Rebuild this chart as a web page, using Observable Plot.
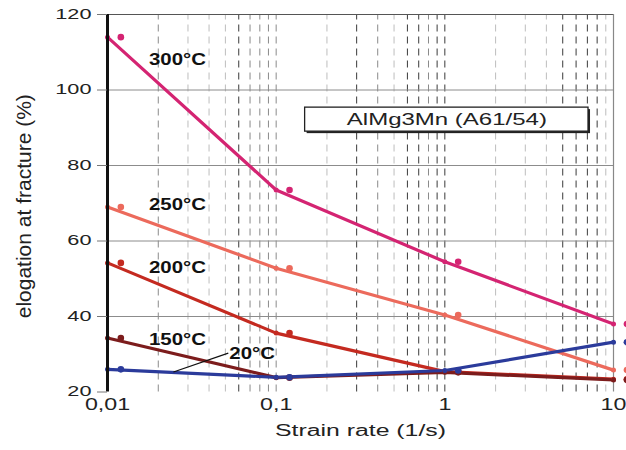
<!DOCTYPE html>
<html><head><meta charset="utf-8">
<script src="https://cdn.jsdelivr.net/npm/d3@7"></script>
<script src="https://cdn.jsdelivr.net/npm/@observablehq/plot@0.6"></script>
<style>body{margin:0;background:#fff}</style>
</head><body><div id="chart"></div>
<script>
// ---- data ----
const rates = [0.01, 0.1, 1, 10];
const markRates = [0.012, 0.12, 1.2, 12];
const series = ["300°C", "250°C", "200°C", "150°C", "20°C"];
const colors = ["#d42472", "#ec6a5c", "#c42a20", "#7c1c1c", "#2b3b9b"];
const e300 = [114, 73.5, 54.5, 38];
const e250 = [69, 52.8, 40.4, 25.8];
const e200 = [54.2, 35.6, 25.4, 23.4];
const e150 = [34.3, 23.8, 25.2, 23.2];
const e20 = [26, 23.9, 25.7, 33.2];
const values = [e300, e250, e200, e150, e20];
const xTicks = [0.01, 0.1, 1, 10];
const xTickLabels = ["0,01", "0,1", "1", "10"];
const yTicks = [20, 40, 60, 80, 100, 120];
const gridRates = [0.02,0.03,0.04,0.05,0.06,0.07,0.08,0.09,0.1,0.2,0.3,0.4,0.5,0.6,0.7,0.8,0.9,1,2,3,4,5,6,7,8,9];
const gridShade = ["m","l","l","l","d","m","m","m","m","l","d","m","l","d","d","m","d","d","l","l","l","d","d","d","d","l"];
const title = "AlMg3Mn (A61/54)";
const xLabel = "Strain rate (1/s)";
const yLabel = "elogation at fracture (%)";
// annotation anchors (data coordinates)
const labelX = [0.026, 0.026, 0.026, 0.026, 0.072];
const labelY = [108, 69.6, 52.9, 33.8, 30.1];
const leader = {x1: 0.052, y1: 30.3, x2: 0.0246, y2: 25.3};
const box = {x1: 0.1485, x2: 7.11, y1: 88.97, y2: 95.33, cx: 1.028, cy: 92.15};

const rows = [];
series.forEach((s, i) => {
  rates.forEach((r, j) => {
    rows.push({series: s, rate: r, mrate: markRates[j], value: values[i][j]});
  });
});
const grid = gridRates.map((r, i) => ({rate: r, shade: gridShade[i]}));
const shadeColor = {d: "#3a3a3a", m: "#8a8a8a", l: "#bdbdbd"};
const labels = series.map((s, i) => ({series: s, x: labelX[i], y: labelY[i]}));

const plot = Plot.plot({
  width: 626, height: 450,
  marginLeft: 107, marginRight: 13, marginTop: 14, marginBottom: 58.5,
  style: {fontFamily: "Liberation Sans, Arial, sans-serif", background: "#fff"},
  x: {type: "log", domain: [0.01, 10]},
  y: {domain: [20, 120]},
  color: {domain: series, range: colors},
  marks: [
    Plot.ruleX(grid, {x: "rate", y1: 20, y2: 120, stroke: d => shadeColor[d.shade], strokeWidth: 1, strokeDasharray: "7,5"}),
    Plot.ruleY([40, 60, 80, 100], {stroke: "#8c8c8c", strokeWidth: 1}),
    Plot.ruleY([120], {stroke: "#555", strokeWidth: 1.2}),
    Plot.ruleX([10], {y1: 20, y2: 120, stroke: "#888", strokeWidth: 1.2}),
    Plot.rect([box], {x1: "x1", x2: "x2", y1: "y1", y2: "y2", fill: "#222", dx: 2, dy: 2}),
    Plot.rect([box], {x1: "x1", x2: "x2", y1: "y1", y2: "y2", fill: "#fff", stroke: "#222", strokeWidth: 1.3}),
    Plot.text([box], {x: "cx", y: "cy", text: () => title, fontSize: 16, fill: "#222"}),
    Plot.line(rows, {x: "rate", y: "value", z: "series", stroke: "series", strokeWidth: 3.2}),
    Plot.dot(rows, {x: "rate", y: "value", fill: "series", r: 2.5}),
    Plot.dot(rows, {x: "mrate", y: "value", fill: "series", r: 3.3}),
    Plot.link([leader], {x1: "x1", y1: "y1", x2: "x2", y2: "y2", stroke: "#111", strokeWidth: 1.3}),
    Plot.text(labels, {x: "x", y: "y", text: "series", fontSize: 17, fontWeight: "bold", fill: "#111"}),
    Plot.ruleX([0.01], {y1: 20, y2: 120, stroke: "#111", strokeWidth: 3}),
    Plot.axisY({ticks: yTicks, tickSize: 10, tickPadding: 6, fontSize: 14, stroke: "#777", color: "#222", label: null}),
    Plot.axisX({ticks: xTicks, tickFormat: d => xTickLabels[xTicks.indexOf(d)], tickSize: 0, tickPadding: 7, fontSize: 16, color: "#222", label: null}),
    Plot.text([xLabel], {frameAnchor: "bottom", text: d => d, dy: 44, fontSize: 16, fill: "#222"}),
    Plot.text([yLabel], {frameAnchor: "left", textAnchor: "middle", text: d => d, dx: -83, dy: 3, rotate: -90, fontSize: 21, fill: "#222"})
  ]
});
document.getElementById("chart").appendChild(plot);

const factors = new Map();
xTickLabels.forEach(s => factors.set(s, 1.45));
yTicks.forEach(v => factors.set(String(v), 1.55));
factors.set(xLabel, 1.55);
factors.set(title, 1.5);
series.forEach(s => factors.set(s, 1.2));
plot.querySelectorAll("text").forEach(t => {
  const k = factors.get(t.textContent.trim());
  if (!k) return;
  const L = t.getComputedTextLength();
  t.setAttribute("textLength", L * k);
  t.setAttribute("lengthAdjust", "spacingAndGlyphs");
});
</script>
</body></html>
